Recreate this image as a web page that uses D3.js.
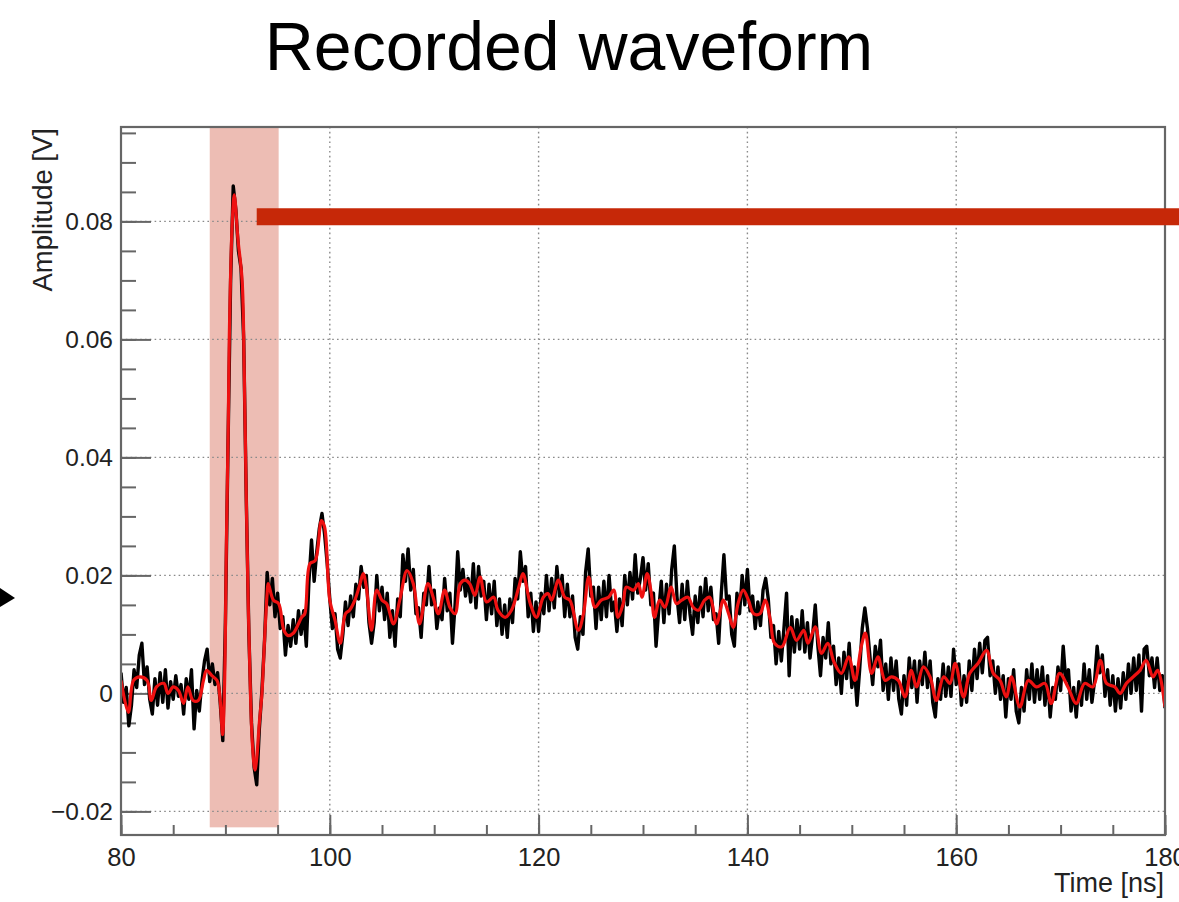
<!DOCTYPE html>
<html>
<head>
<meta charset="utf-8">
<script src="https://cdn.jsdelivr.net/npm/d3@7"></script>
<style>
  html, body { margin: 0; padding: 0; background: #fff; }
  svg { display: block; }
</style>
</head>
<body>
<svg id="chart" width="1179" height="902"></svg>
<script>
// ---- text ----
const chartTitle = "Recorded waveform";
const xLabel = "Time [ns]";
const yLabel = "Amplitude [V]";

// ---- axes ----
const timeDomain = [80, 180];          // ns
const ampDomain = [-0.024, 0.096];     // V
const xTicks = [80, 100, 120, 140, 160, 180];
const xTickLabels = ["80", "100", "120", "140", "160", "180"];
const yTicks = [-0.02, 0, 0.02, 0.04, 0.06, 0.08];
const yTickLabels = ["\u22120.02", "0", "0.02", "0.04", "0.06", "0.08"];

// ---- raw digitizer samples (mV), one every 0.25 ns from 80 ns ----
const rawStart = 80;
const rawStep = 0.25;
const rawMilliVolts = [
  3.5, -1.5, 1.0, -5.5,   -2.0, 4.0, 1.0, 6.5,   8.5, 1.5, 4.5, -1.0,   -3.5, 2.5, -2.0, 3.5,   -1.5, 4.0, -2.5, 2.0,
  -1.0, 3.0, -0.5, 1.5,   -3.5, 2.5, -1.0, 4.0,  -6.0, 0.5, -3.0, 2.0,  5.5, 7.5, 2.0, 5.0,     1.5, 3.5, -1.5, -8.0,
  12, 42, 70, 86,         82, 75, 72, 60,        33, 10, -5, -12.5,     -15.5, -6, 0.5, 9,      20.5, 15, 19.5, 13,
  17, 11, 13, 6.5,        11.5, 8, 12.5, 8.5,    14, 10, 14, 8,         19, 26, 19, 24,         28, 30.5, 27, 22,
  16, 11, 13.5, 7.5,      6, 10, 15.5, 11.5,     16.5, 13, 18.5, 16,    21.5, 18, 20, 12,       8.5, 12, 20, 14,
  18, 12.5, 17, 9.5,      14, 8, 16, 13,         23.5, 19, 24.5, 17.5,  21, 13.5, 14.5, 9.5,    17, 15, 21.5, 15,
  17.5, 11, 14.5, 12.5,   19.5, 14, 17, 8.5,     15, 24, 17.5, 21,      16.5, 19.5, 15.5, 22,   14.5, 21.5, 16.5, 19,
  12.5, 18.5, 13.5, 19,   11.5, 16, 10, 15,      9.5, 16, 12, 19.5,     16, 24, 19, 21.5,       13, 17, 10.5, 15.5,
  10.5, 17, 13.5, 20,     14, 19.5, 14.5, 21.5,  16.5, 20, 13, 18.5,    13, 16.5, 9.5, 7.5,     13, 10, 20.5, 24.5,
  16.5, 18, 11, 18,       12.5, 19, 13, 20,      14, 15.5, 10.5, 16,    11.5, 20, 15, 20.5,     16, 23.5, 17, 19.5,
  23, 17.5, 22, 15,       17, 8, 14, 19,         12, 18.5, 13.5, 21,    25, 16.5, 12, 18.5,     12.5, 19, 13.5, 10,
  16.5, 12, 18, 13,       19.5, 14, 18, 12.5,    13.5, 8.5, 17, 23.5,   16, 16.5, 10, 8,        17, 13.5, 20, 15,
  21, 14, 16.5, 11,       15.5, 11.5, 17.5, 19.5, 16, 9.5, 11.5, 5,     10.5, 5.5, 11, 17,      3, 13, 7, 12.5,
  7.5, 14, 7, 12,         6, 10, 15, 8,          3, 9.5, 6, 12,         5, 8, 1.5, 6,           0, 7, 2.5, 8.5,
  1, 4.5, -2, 4,          11, 14.5, 11, 6,       1.5, 8, 4.5, 9,        0.5, 5, -1, 6,          0.5, 5.5, -1, -3.5,
  3, -2, 6, 1,            5.5, -1.5, 5.5, 1.5,   7, 1, 5.5, -1.5,       -4, 2.5, -1, 5,         -0.5, 4.5, -0.5, 7.5,
  1.5, 5, -2, 3,          -1.5, 5.5, 0.5, 7.5,   2.5, 8.5, 3.5, 9,      9.5, 3, 5.5, 0,         4.5, -1, 3, -4,
  2.5, -1, 4, -3,         -5, 1, -3, 4,          -1, 5, -1.5, 4,        -1, 4.5, -2, 3,         -4, 1, -1, 4.5,
  0.5, 8, 2, 4,           -3, 1, -4, 2,          -2, 5, -1, 4,          -1.5, 2, 8, 3.5,        6.5, -0.5, 4, -2,
  3, -3, 2.5, -2.5,       3.5, -1, 5, 0,         6, 0.5, 6.5, -3,       7.5, 8, 3, 6,           1, 6, 0.5, 3,
  -2.5
];

// ---- filtered waveform (ns, mV) ----
const smoothTime = [
  80.0, 80.7, 81.2, 81.8, 82.5, 82.9, 83.4, 84.1, 84.5, 85.0, 85.5, 86.0, 86.4, 86.9, 87.4, 87.9, 88.2, 88.7, 89.2, 89.5,
  89.73, 89.9, 90.1, 90.28, 90.37, 90.66, 90.85, 91.2, 91.6, 91.8, 92.0, 92.2, 92.4, 92.6, 92.83, 93.0, 93.25, 93.5, 93.75, 94.0,
  94.1, 94.6, 95.1, 95.6, 96.0, 96.5, 97.0, 97.3, 97.6, 98.1, 98.6, 99.2, 99.5, 100.0, 100.5, 101.0, 101.5, 101.9, 102.4, 102.9,
  103.2, 103.5, 104.0, 104.5, 105.0, 105.45, 106.1, 106.7, 107.4, 108.0, 108.6, 109.4, 109.9, 110.4, 111.0, 111.5, 112.0, 112.5, 112.95, 113.4,
  113.9, 114.4, 115.0, 115.7, 116.1, 116.8, 117.4, 118.1, 118.5, 119.2, 119.8, 120.45, 120.9, 121.25, 121.9, 122.5, 123.0, 123.8, 124.3, 124.8,
  125.4, 126.0, 126.7, 127.2, 127.6, 128.1, 128.4, 129.1, 129.55, 129.9, 130.4, 130.8, 131.1, 131.6, 132.1, 132.7, 133.2, 133.7, 134.3, 134.8,
  135.3, 135.9, 136.4, 137.05, 137.7, 138.2, 138.65, 139.1, 139.6, 140.1, 140.6, 141.2, 141.7, 142.2, 142.6, 143.3, 144.1, 144.7, 145.4, 145.8,
  146.5, 147.1, 147.7, 148.3, 149.0, 149.7, 150.3, 150.9, 151.3, 151.9, 152.5, 153.2, 153.8, 154.45, 155.1, 155.7, 156.2, 156.85, 157.5, 158.1,
  158.8, 159.4, 159.9, 160.7, 161.3, 162.1, 162.9, 163.55, 164.2, 164.8, 165.3, 166.1, 166.9, 167.7, 168.5, 169.1, 169.9, 170.7, 171.5, 172.3,
  173.1, 173.8, 174.4, 175.2, 175.7, 176.3, 176.95, 177.6, 178.2, 178.85, 179.3, 180.0
];
const smoothMilliVolts = [
  2.2, -3.2, 2.2, 2.8, 2.2, -1.2, 1.1, 1.7, 0.0, 1.1, 0.5, -1.7, 1.1, -1.2, -1.2, 2.2, 3.9, 3.0, 2.2, -1.2,
  -7.0, 0.0, 26, 46, 60, 80, 84.5, 77, 70, 55, 33, 14, 0, -9, -13, -11, -5, 0, 9, 17,
  18.6, 15.8, 15.2, 10.7, 9.8, 10.2, 11.8, 12.9, 13.5, 22, 22.5, 29.3, 28.2, 15.8, 12.4, 8.5, 13.5, 14.1, 15.8, 18.6,
  20.3, 18.0, 10.7, 17.5, 15.8, 15.2, 11.8, 15.8, 20.8, 18.6, 11.8, 18.6, 16.3, 13.5, 17.5, 14.6, 13.5, 18.6, 19.2, 18.6,
  16.6, 19.7, 15.5, 16.3, 14.1, 12.9, 14.1, 18.0, 20.3, 15.2, 12.9, 16.3, 16.9, 15.8, 19.2, 16.3, 15.8, 10.7, 13.5, 19.7,
  14.6, 15.8, 16.3, 17.5, 12.9, 15.2, 18.0, 17.5, 18.6, 16.3, 20.3, 16.9, 12.9, 15.8, 14.6, 18.0, 15.2, 15.8, 16.3, 14.6,
  14.1, 15.8, 16.3, 11.8, 15.8, 13.5, 11.2, 15.2, 17.5, 15.8, 13.5, 13.5, 15.8, 12.4, 8.5, 7.9, 11.2, 9.0, 10.7, 8.5,
  11.3, 6.8, 8.5, 5.3, 3.4, 6.2, 2.2, 7.9, 10.2, 3.4, 6.2, 2.2, 2.8, 2.2, -0.6, 3.9, 1.1, 4.5, 2.8, -1.2,
  2.8, 1.7, 5.1, -0.6, 3.4, 5.1, 7.3, 3.4, 2.2, -0.6, 2.8, -2.3, 2.2, 1.1, 1.7, -1.7, 3.4, 1.1, -1.7, 1.7,
  1.1, 5.6, 1.7, 1.1, 0.0, 1.7, 2.8, 3.9, 5.6, 2.8, 3.9, -2.3
];

// ---- annotations ----
const highlightWindow = [88.5, 95.1];  // ns, pulse region
const highlightFloor = -0.0227;        // V
const markerStart = 93;                // ns
const markerLevel = 0.0808;            // V

// ---- layout ----
const W = 1179, H = 902;
const plot = { left: 121, right: 1165, top: 127, bottom: 835 };
const font = "'Liberation Sans', Arial, Helvetica, sans-serif";

const svg = d3.select("#chart");
const x = d3.scaleLinear().domain(timeDomain).range([plot.left, plot.right]);
const y = d3.scaleLinear().domain(ampDomain).range([plot.bottom, plot.top]);

// title
svg.append("text")
  .attr("x", 569).attr("y", 70)
  .attr("text-anchor", "middle")
  .style("font-family", font).style("font-size", "68px").attr("fill", "#000")
  .text(chartTitle);

// highlighted pulse window
svg.append("rect")
  .attr("x", x(highlightWindow[0]))
  .attr("y", y(ampDomain[1]))
  .attr("width", x(highlightWindow[1]) - x(highlightWindow[0]))
  .attr("height", y(highlightFloor) - y(ampDomain[1]))
  .attr("fill", "#edbdb4");

// dotted grid
const grid = svg.append("g").attr("stroke", "#8a8a8a").attr("stroke-width", 1.4)
  .attr("stroke-dasharray", "1.6,3.2");
grid.selectAll("line.h").data(yTicks).join("line").attr("class", "h")
  .attr("x1", plot.left).attr("x2", plot.right)
  .attr("y1", d => y(d)).attr("y2", d => y(d));
grid.selectAll("line.v").data(xTicks.filter(t => t > timeDomain[0] && t < timeDomain[1])).join("line").attr("class", "v")
  .attr("y1", plot.top).attr("y2", plot.bottom)
  .attr("x1", d => x(d)).attr("x2", d => x(d));

// axes: minor ticks, major ticks with labels
function styleAxis(g, size) {
  g.select(".domain").remove();
  g.selectAll(".tick line").attr("stroke", "#666").attr("stroke-width", 2);
  g.selectAll(".tick text").style("font-family", font).style("font-size", size).attr("fill", "#222");
}
svg.append("g").attr("transform", `translate(${plot.left},0)`)
  .call(d3.axisLeft(y).tickValues(y.ticks(24)).tickSize(-15).tickFormat(""))
  .call(g => styleAxis(g, "24px"));
svg.append("g").attr("transform", `translate(${plot.left},0)`)
  .call(d3.axisLeft(y).tickValues(yTicks).tickSize(-30).tickPadding(8)
    .tickFormat((d, i) => yTickLabels[i]))
  .call(g => styleAxis(g, "24.5px"));
svg.append("g").attr("transform", `translate(0,${plot.bottom})`)
  .call(d3.axisBottom(x).tickValues(x.ticks(20)).tickSize(-10).tickFormat(""))
  .call(g => styleAxis(g, "25px"));
svg.append("g").attr("transform", `translate(0,${plot.bottom})`)
  .call(d3.axisBottom(x).tickValues(xTicks).tickSize(-20).tickPadding(13)
    .tickFormat((d, i) => xTickLabels[i]))
  .call(g => styleAxis(g, "25.5px"));

// axis titles
svg.append("text")
  .attr("transform", `translate(52,${plot.top + 1}) rotate(-90)`)
  .attr("text-anchor", "end")
  .style("font-family", font).style("font-size", "27.5px").attr("fill", "#222")
  .text(yLabel);
svg.append("text")
  .attr("x", plot.right - 1).attr("y", 892)
  .attr("text-anchor", "end")
  .style("font-family", font).style("font-size", "27px").attr("fill", "#222")
  .text(xLabel);

// waveforms
svg.append("clipPath").attr("id", "plotClip").append("rect")
  .attr("x", plot.left).attr("y", plot.top)
  .attr("width", plot.right - plot.left).attr("height", plot.bottom - plot.top);
const traces = svg.append("g").attr("clip-path", "url(#plotClip)");

const rawLine = d3.line()
  .x((d, i) => x(rawStart + i * rawStep))
  .y(d => y(d / 1000));
traces.append("path").datum(rawMilliVolts)
  .attr("d", rawLine)
  .attr("fill", "none").attr("stroke", "#000").attr("stroke-width", 3.4)
  .attr("stroke-linejoin", "round");

const smoothLine = d3.line()
  .x((d, i) => x(smoothTime[i]))
  .y(d => y(d / 1000))
  .curve(d3.curveCatmullRom.alpha(0.5));
traces.append("path").datum(smoothMilliVolts)
  .attr("d", smoothLine)
  .attr("fill", "none").attr("stroke", "#ee1111").attr("stroke-width", 3.2)
  .attr("stroke-linejoin", "round");

// frame
svg.append("rect")
  .attr("x", plot.left).attr("y", plot.top)
  .attr("width", plot.right - plot.left).attr("height", plot.bottom - plot.top)
  .attr("fill", "none").attr("stroke", "#666").attr("stroke-width", 2.2);

// level marker bar
svg.append("line")
  .attr("x1", x(markerStart)).attr("x2", W + 10)
  .attr("y1", y(markerLevel)).attr("y2", y(markerLevel))
  .attr("stroke", "#c62808").attr("stroke-width", 17);

// pointer arrow at the left edge
svg.append("path")
  .attr("d", d3.line()([[0, 588], [15, 598], [0, 607]]) + "Z")
  .attr("fill", "#000");
</script>
</body>
</html>
